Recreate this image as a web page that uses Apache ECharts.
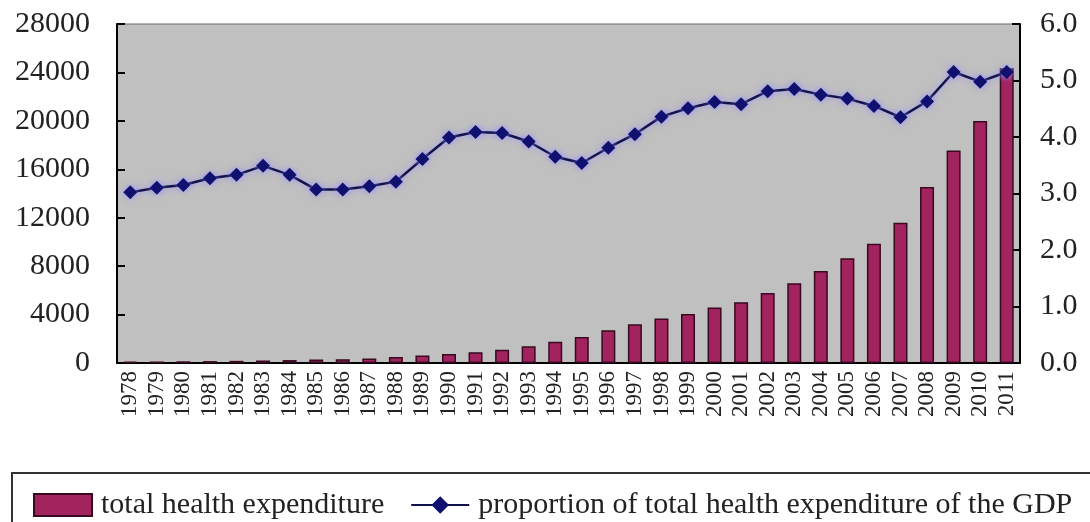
<!DOCTYPE html>
<html>
<head>
<meta charset="utf-8">
<script src="https://cdn.jsdelivr.net/npm/echarts@6/dist/echarts.min.js"></script>
<style>
  html, body { margin: 0; padding: 0; background: #fff; }
  #chart { width: 1090px; height: 522px; }
</style>
</head>
<body>
<div id="chart"></div>
<script>
// Years 1978–2011
const years = ['1978','1979','1980','1981','1982','1983','1984','1985','1986','1987',
  '1988','1989','1990','1991','1992','1993','1994','1995','1996','1997','1998','1999',
  '2000','2001','2002','2003','2004','2005','2006','2007','2008','2009','2010','2011'];

// Total health expenditure (100 million yuan)
const totalExpenditure = [110, 126, 143, 160, 178, 207, 242, 279, 316, 380,
  488, 616, 747, 893, 1097, 1378, 1761, 2155, 2709, 3197, 3679, 4048,
  4587, 5026, 5790, 6584, 7590, 8660, 9843, 11574, 14535, 17542, 19980, 24346];

// Total health expenditure as a share of GDP (%)
const shareOfGdp = [3.02, 3.10, 3.15, 3.27, 3.33, 3.49, 3.33, 3.07, 3.07, 3.13,
  3.21, 3.61, 3.99, 4.09, 4.07, 3.92, 3.65, 3.54, 3.81, 4.05, 4.36, 4.51,
  4.62, 4.58, 4.81, 4.85, 4.75, 4.68, 4.55, 4.35, 4.63, 5.15, 4.98, 5.15];

const serif = "'Liberation Serif', 'DejaVu Serif', serif";

const chart = echarts.init(document.getElementById('chart'), null, { renderer: 'canvas' });

chart.setOption({
  animation: false,
  grid: {
    left: 117, right: 70, top: 24, bottom: 159,
    show: true, backgroundColor: '#C0C0C0', borderColor: '#6a6a6a', borderWidth: 1
  },
  graphic: [{
    type: 'rect',
    shape: { x: 12, y: 473, width: 1100, height: 70 },
    style: { fill: 'none', stroke: '#333', lineWidth: 2 },
    z: 0
  }],
  legend: {
    left: 28, top: 485,
    itemWidth: 58, itemHeight: 22, itemGap: 26,
    textStyle: { fontFamily: serif, fontSize: 30, color: '#222', padding: [0, 0, 0, 4] },
    data: [
      { name: 'total health expenditure', icon: 'rect' },
      { name: 'proportion of total health expenditure of the GDP' }
    ]
  },
  xAxis: {
    type: 'category',
    data: years,
    boundaryGap: true,
    axisLine: { lineStyle: { color: '#000', width: 2 } },
    axisTick: { inside: true, length: 6, lineStyle: { color: '#000', width: 2 } },
    axisLabel: {
      rotate: 90, interval: 0, margin: 8,
      fontFamily: serif, fontSize: 23, color: '#222'
    }
  },
  yAxis: [{
    type: 'value', min: 0, max: 28000, interval: 4000,
    axisLine: { show: true, lineStyle: { color: '#000', width: 2 } },
    axisTick: { show: true, inside: true, length: 8, lineStyle: { color: '#000', width: 2 } },
    splitLine: { show: false },
    axisLabel: {
      margin: 27, fontFamily: serif, fontSize: 30, color: '#222',
      formatter: v => String(v)
    }
  }, {
    type: 'value', min: 0, max: 6, interval: 1, position: 'right',
    axisLine: { show: true, lineStyle: { color: '#000', width: 2 } },
    axisTick: { show: true, inside: true, length: 8, lineStyle: { color: '#000', width: 2 } },
    splitLine: { show: false },
    axisLabel: {
      margin: 20, fontFamily: serif, fontSize: 30, color: '#222',
      formatter: v => v.toFixed(1)
    }
  }],
  series: [{
    name: 'total health expenditure',
    type: 'bar',
    yAxisIndex: 0,
    barWidth: 14,
    data: totalExpenditure,
    itemStyle: { color: '#A2245E', borderColor: '#3a0820', borderWidth: 1.5 }
  }, {
    name: 'proportion of total health expenditure of the GDP',
    type: 'line',
    yAxisIndex: 1,
    data: shareOfGdp,
    symbol: 'diamond',
    symbolSize: 14,
    lineStyle: {
      color: '#12124a', width: 2.5,
      shadowColor: 'rgba(150,140,255,0.9)', shadowBlur: 6
    },
    itemStyle: {
      color: '#10106e',
      shadowColor: 'rgba(150,140,255,0.9)', shadowBlur: 6
    },
    z: 5
  }]
});
</script>
</body>
</html>
